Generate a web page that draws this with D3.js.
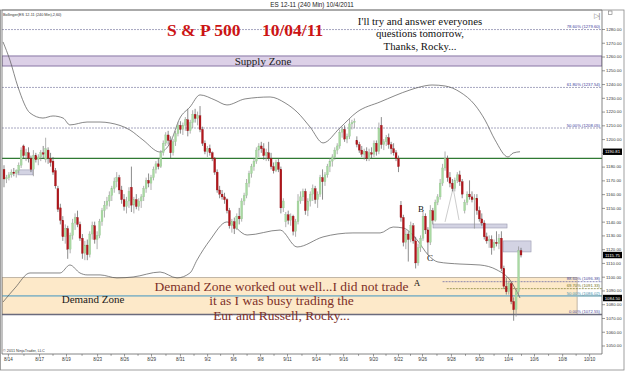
<!doctype html>
<html lang="en">
<head>
<meta charset="UTF-8">
<title>ES 12-11 (240 Min) 10/4/2011</title>
<style>
  html, body { margin: 0; padding: 0; background: #fff; }
  svg { display: block; font-family: 'Liberation Sans', Arial, sans-serif; }
  .note { font-family: 'Liberation Serif', 'Times New Roman', serif; }
</style>
</head>
<body>
<svg width="625" height="371"></svg>
<script src="https://d3js.org/d3.v7.min.js"></script>
<script>
  // 240 min bars, ES 12-11, 8/12 .. 10/4/2011
  const open = [
    1178,1171,1172,1174,1176,1175,1177,1181,1195,1188, 1190,1186,1178,1188,1185,1187,1190,1185,1192,1186,
    1184,1177,1164,1150,1141,1129,1135,1120,1130,1139, 1143,1138,1128,1117,1123,1116,1131,1137,1127,1130,
    1140,1148,1152,1155,1159,1164,1169,1172,1163,1156, 1151,1155,1165,1152,1156,1151,1155,1158,1164,1170,
    1168,1172,1178,1182,1180,1190,1197,1203,1199,1190, 1198,1204,1210,1207,1210,1214,1206,1212,1218,1215,
    1217,1207,1197,1191,1193,1190,1186,1176,1163,1160, 1158,1156,1148,1137,1140,1135,1144,1142,1155,1159,
    1168,1175,1180,1184,1192,1195,1193,1188,1190,1186, 1180,1177,1183,1178,1150,1140,1145,1141,1144,1133,
    1140,1155,1158,1162,1148,1155,1160,1164,1156,1160, 1172,1169,1174,1180,1184,1187,1192,1195,1205,1207,
    1200,1202,1211,1212,1199,1196,1192,1189,1191,1186, 1190,1189,1197,1191,1210,1196,1198,1201,1196,1193,
    1190,1186,1152,1143,1125,1131,1127,1137,1126,1110, 1121,1128,1144,1134,1125,1148,1141,1154,1158,1168,
    1179,1186,1172,1168,1164,1170,1174,1169,1148,1154, 1160,1158,1156,1157,1148,1142,1139,1129,1126,1127,
    1121,1125,1124,1128,1106,1093,1089,1095,1082,1076, 1089,1119
  ]
  const high = [
    1181,1174,1176,1178,1179,1178,1183,1194,1196,1193, 1194,1188,1192,1190,1189,1192,1195,1201,1194,1190,
    1187,1179,1166,1153,1144,1138,1137,1132,1142,1146, 1148,1140,1131,1126,1127,1133,1140,1140,1133,1142,
    1150,1155,1158,1162,1166,1172,1176,1174,1166,1160, 1158,1165,1180,1158,1160,1157,1160,1166,1172,1175,
    1174,1180,1184,1186,1192,1199,1205,1206,1202,1200, 1206,1212,1213,1212,1216,1222,1214,1221,1222,1220,
    1224,1209,1199,1195,1196,1191,1187,1178,1166,1163, 1161,1157,1150,1142,1143,1146,1150,1157,1161,1171,
    1177,1182,1186,1194,1197,1198,1197,1193,1198,1190, 1183,1185,1186,1180,1157,1147,1148,1146,1145,1142,
    1160,1162,1164,1164,1157,1162,1167,1166,1162,1174, 1178,1176,1182,1186,1189,1194,1197,1207,1209,1210,
    1204,1215,1214,1215,1202,1198,1195,1193,1194,1193, 1194,1199,1199,1212,1216,1200,1203,1204,1198,1197,
    1192,1188,1155,1145,1134,1133,1140,1139,1129,1124, 1130,1147,1146,1136,1152,1150,1156,1160,1171,1182,
    1191,1188,1176,1171,1172,1176,1177,1171,1156,1162, 1170,1162,1160,1160,1151,1146,1141,1132,1130,1130,
    1127,1133,1131,1133,1108,1099,1097,1096,1085,1091, 1122,1121
  ]
  const low = [
    1165,1168,1170,1172,1173,1172,1175,1179,1186,1184, 1183,1176,1173,1183,1181,1184,1186,1183,1182,1180,
    1174,1164,1147,1138,1126,1124,1113,1117,1127,1134, 1136,1126,1113,1112,1112,1114,1127,1124,1120,1128,
    1137,1143,1149,1151,1155,1161,1165,1160,1153,1148, 1146,1150,1147,1146,1149,1148,1150,1155,1161,1165,
    1163,1170,1175,1178,1179,1188,1195,1196,1186,1188, 1195,1202,1204,1203,1206,1202,1204,1208,1212,1210,
    1205,1195,1189,1187,1188,1184,1174,1161,1157,1156, 1153,1146,1135,1132,1131,1134,1138,1140,1152,1157,
    1165,1172,1177,1182,1187,1190,1185,1184,1184,1178, 1175,1176,1176,1146,1147,1136,1138,1137,1130,1129,
    1138,1153,1155,1145,1144,1151,1155,1153,1150,1158, 1156,1166,1172,1176,1180,1185,1189,1193,1201,1198,
    1197,1200,1207,1208,1194,1190,1187,1185,1184,1184, 1186,1187,1188,1189,1193,1192,1195,1193,1189,1188,
    1184,1176,1140,1122,1120,1111,1125,1124,1106,1108, 1118,1126,1131,1116,1123,1138,1140,1152,1156,1166,
    1177,1169,1165,1162,1162,1168,1166,1157,1146,1152, 1156,1154,1135,1145,1140,1137,1127,1124,1121,1116,
    1119,1122,1120,1104,1091,1087,1087,1080,1068,1071, 1086,1114
  ]
  const close = [
    1171,1172,1174,1176,1175,1177,1181,1192,1188,1190, 1186,1178,1188,1185,1187,1190,1189,1193,1186,1183,
    1176,1166,1149,1141,1129,1135,1120,1130,1139,1143, 1138,1128,1117,1123,1116,1131,1137,1127,1130,1140,
    1148,1152,1155,1159,1164,1169,1172,1163,1156,1151, 1155,1162,1152,1156,1151,1155,1158,1164,1170,1168,
    1172,1178,1182,1180,1190,1197,1203,1199,1190,1198, 1204,1210,1207,1210,1214,1206,1212,1218,1215,1217,
    1207,1197,1191,1193,1190,1186,1176,1163,1160,1158, 1156,1148,1137,1140,1135,1144,1142,1155,1159,1168,
    1175,1180,1184,1192,1195,1193,1188,1190,1186,1180, 1177,1183,1178,1150,1155,1145,1141,1144,1133,1140,
    1155,1158,1162,1148,1155,1160,1164,1156,1160,1172, 1169,1174,1180,1184,1187,1192,1195,1205,1207,1200,
    1202,1211,1212,1213,1196,1192,1189,1191,1186,1190, 1189,1197,1191,1208,1196,1198,1201,1196,1193,1190,
    1186,1180,1143,1125,1131,1127,1137,1126,1110,1121, 1128,1144,1134,1125,1148,1141,1154,1158,1168,1179,
    1186,1172,1168,1164,1170,1174,1169,1160,1154,1160, 1158,1156,1157,1148,1142,1139,1129,1126,1127,1121,
    1125,1124,1128,1106,1093,1089,1095,1082,1076,1089, 1119,1115.75
  ]

  // Bollinger(2,60) bands (bar index, price)
  const upperIdx = [-0.4,2.4,5.7,10.6,15.9,20,24.1,26.9,33.9,39.2,43.3,51.4,56.7,63.7,67.8,71.8,75.9,80,86.1,91,98.4,108.6,114.7,119.6,124.9,130.2,137.1,144.1,153.5,165.7,169.8,174.7,180,186.1,192.2,196.3,200.4,205.7,207.8,210.6]
  const upperVal = [1270.6,1257.5,1237.9,1219,1215.3,1216.8,1215.3,1210.3,1212.4,1212.4,1211.7,1206.6,1199.4,1190.6,1197.2,1215.3,1223.3,1232.1,1228.4,1224.8,1229.2,1230.6,1226.3,1219.7,1208.8,1197.2,1208.1,1219.7,1227,1235.7,1237.9,1239.3,1238.6,1234.2,1224.8,1213.9,1199.4,1187,1189.9,1190.8]
  const lowerIdx = [-0.4,4.5,10.6,22.9,26.9,31,33.9,39.2,46.1,52.7,63.7,70.6,75.9,78.8,84.1,91,99.2,112.7,119.6,130.2,142.4,153.5,158.8,162.9,168.6,173.1,177.1,186.1,194.3,201.2,206.5,210.6]
  const lowerVal = [1081.6,1091.8,1102.7,1102.7,1108.5,1102.7,1101.3,1101.3,1099.1,1099.8,1103.4,1099.1,1102.7,1112.2,1126.7,1139.8,1130.3,1133.9,1121.6,1128.9,1131.8,1131.8,1136.1,1135.4,1126.7,1115.8,1110.7,1109.2,1108.5,1104.9,1097.6,1084.5]

  const dateLabels = ['8/14','8/17','8/19','8/23','8/26','8/29','8/31','9/2','9/6','9/8','9/11','9/14','9/16','9/20','9/22','9/26','9/28','9/30','10/4','10/6','10/8','10/10']
  const dateIdx = [1.6,14.3,25.3,38,49,60,71.8,82.9,93.5,104.5,115.5,127.3,138.4,150.6,160.8,170.6,182.4,193.9,205.7,216.3,227.8,238.8]

  const priceTicks = d3.range(1050, 1281, 10)

  // fib retracements
  const fibUpVal = [1279.6, 1237.54, 1208.05]
  const fibUpText = ['78.60% (1279.60)', '61.80% (1237.54)', '50.00% (1208.05)']
  const fibLowVal = [1096.38, 1091.33, 1086.02, 1072.55]
  const fibLowText = ['88.60% (1096.38)', '69.70% (1091.33)', '50.00% (1086.02)', '0.00% (1072.55)']
  const fibLowStart = [179, 180.7, -2, -2]

  const supplyZone = [1253.1, 1260.4]
  const demandZone = [1072.55, 1099.3]
  const demandEnd = 233.9
  const greenLine = 1186

  const boxStart = [5.7, 175.1, 203.7]
  const boxEnd = [11.8, 205.3, 215.1]
  const boxHigh = [1177.6, 1138.3, 1126]
  const boxLow = [1174, 1135.4, 1118]

  const triIdx = [180, 183.3, 185.7]
  const triVal = [1139.8, 1164.5, 1141.2]

  const markers = [1190.81, 1115.75, 1084.50]

  ;(function () {
    const svg = d3.select('svg')
    const pL = 2, pR = 602, pT = 10, pB = 354

    const x = d3.scaleLinear().domain([0, 211]).range([4, 521])
    const y = d3.scaleLinear().domain([1050, 1280]).range([345.5, 29])

    svg.append('rect').attr('width', 625).attr('height', 371).attr('fill', '#fff')

    svg.append('defs').append('clipPath').attr('id', 'plot')
      .append('rect').attr('x', pL).attr('y', pT).attr('width', pR - pL).attr('height', pB - pT)

    const plot = svg.append('g').attr('clip-path', 'url(#plot)')

    // zones
    plot.append('rect')
      .attr('x', pL).attr('width', pR - pL)
      .attr('y', y(supplyZone[1])).attr('height', y(supplyZone[0]) - y(supplyZone[1]))
      .attr('fill', '#dcd0e7').attr('stroke', '#7d6a9c').attr('stroke-width', 0.9)

    plot.append('rect')
      .attr('x', pL).attr('width', x(demandEnd) - pL)
      .attr('y', y(demandZone[1])).attr('height', y(demandZone[0]) - y(demandZone[1]))
      .attr('fill', '#fde9c9').attr('stroke', '#a89a88').attr('stroke-width', 0.7)

    // upper fib lines
    fibUpVal.forEach((v, i) => {
      plot.append('line')
        .attr('x1', pL).attr('x2', pR).attr('y1', y(v)).attr('y2', y(v))
        .attr('stroke', '#8f8fb0').attr('stroke-width', 0.8).attr('stroke-dasharray', '2,1')
      plot.append('text')
        .attr('x', pR - 2).attr('y', y(v) - 1.2).attr('text-anchor', 'end')
        .attr('font-size', 4.2).attr('fill', '#3a3a9a').text(fibUpText[i])
    })

    // lower fib lines
    const fibColor = ['#5a5aa0', '#7a7a2a', '#8fb8c4', '#6a6a7c']
    const fibText = ['#4a4a9a', '#6f6f22', '#3f8fae', '#4a4a9a']
    fibLowVal.forEach((v, i) => {
      const ln = plot.append('line')
        .attr('x1', Math.max(pL, x(fibLowStart[i]))).attr('x2', pR)
        .attr('y1', y(v)).attr('y2', y(v))
        .attr('stroke', fibColor[i])
      if (i < 2) ln.attr('stroke-width', 0.7).attr('stroke-dasharray', '2,1')
      else ln.attr('stroke-width', i === 2 ? 1.8 : 1.6)
      plot.append('text')
        .attr('x', pR - 2).attr('y', y(v) - 1.4).attr('text-anchor', 'end')
        .attr('font-size', 4.2).attr('fill', fibText[i]).text(fibLowText[i])
    })

    plot.append('line')
      .attr('x1', pL).attr('x2', pR).attr('y1', y(greenLine)).attr('y2', y(greenLine))
      .attr('stroke', '#2f7a33').attr('stroke-width', 1.3)

    // bollinger bands
    const bandLine = d3.line().x(d => x(d[0])).y(d => y(d[1])).curve(d3.curveMonotoneX)
    plot.append('path')
      .attr('d', bandLine(upperIdx.map((d, i) => [d, upperVal[i]])))
      .attr('fill', 'none').attr('stroke', '#555').attr('stroke-width', 0.7)
    plot.append('path')
      .attr('d', bandLine(lowerIdx.map((d, i) => [d, lowerVal[i]])))
      .attr('fill', 'none').attr('stroke', '#555').attr('stroke-width', 0.7)

    // drawn boxes
    boxStart.forEach((d, i) => {
      plot.append('rect')
        .attr('x', x(d)).attr('width', x(boxEnd[i]) - x(d))
        .attr('y', y(boxHigh[i])).attr('height', y(boxLow[i]) - y(boxHigh[i]))
        .attr('fill', '#d3d3e3').attr('stroke', '#9a9ab0').attr('stroke-width', 0.6)
    })

    plot.append('path')
      .attr('d', d3.line()(triIdx.map((d, i) => [x(d), y(triVal[i])])))
      .attr('fill', 'none').attr('stroke', '#aaa').attr('stroke-width', 0.6)

    // candles
    const bars = plot.append('g').selectAll('g')
      .data(close.map((c, i) => ({ i, o: open[i], h: high[i], l: low[i], c })))
      .enter().append('g')

    bars.append('line')
      .attr('x1', d => x(d.i)).attr('x2', d => x(d.i))
      .attr('y1', d => y(d.h)).attr('y2', d => y(d.l))
      .attr('stroke', d => d.c >= d.o ? '#8c8c8c' : '#5a5a5a').attr('stroke-width', 0.7)

    bars.append('rect')
      .attr('x', d => x(d.i) - 0.95).attr('width', 1.9)
      .attr('y', d => y(Math.max(d.o, d.c)))
      .attr('height', d => Math.max(0.6, Math.abs(y(d.o) - y(d.c))))
      .attr('fill', d => d.c >= d.o ? '#a9d9a2' : '#b3161b')
      .attr('stroke', d => d.c >= d.o ? '#93c48e' : '#8e1014').attr('stroke-width', 0.3)

    // annotations
    plot.append('text').attr('class', 'note').attr('x', 167).attr('y', 35.5)
      .attr('font-size', 17.5).attr('font-weight', 'bold').attr('fill', '#cc1414').text('S & P 500')
    plot.append('text').attr('class', 'note').attr('x', 262).attr('y', 35.5)
      .attr('font-size', 17.5).attr('font-weight', 'bold').attr('fill', '#cc1414').text('10/04/11')

    const topNote = ["I'll try and answer everyones", 'questions tomorrow,', 'Thanks, Rocky...']
    topNote.forEach((t, i) => {
      plot.append('text').attr('class', 'note').attr('x', 420).attr('y', 25 + i * 12.3)
        .attr('text-anchor', 'middle').attr('font-size', 10.8).attr('fill', '#111').text(t)
    })

    plot.append('text').attr('class', 'note').attr('x', 263).attr('y', 64.5)
      .attr('text-anchor', 'middle').attr('font-size', 11).attr('fill', '#1a1a1a').text('Supply Zone')
    plot.append('text').attr('class', 'note').attr('x', 93).attr('y', 303)
      .attr('text-anchor', 'middle').attr('font-size', 11).attr('fill', '#1a1a1a').text('Demand Zone')

    const demandNote = ['Demand Zone worked out well...I did not trade', 'it as I was busy trading the', 'Eur and Russell, Rocky...']
    demandNote.forEach((t, i) => {
      plot.append('text').attr('class', 'note').attr('x', 281.5).attr('y', 290.5 + i * 14.8)
        .attr('text-anchor', 'middle').attr('font-size', 13.5).attr('fill', '#7e3028').text(t)
    })

    const abc = [['A', 417, 286], ['B', 421, 211.5], ['C', 430, 260.5]]
    abc.forEach(d => {
      plot.append('text').attr('class', 'note').attr('x', d[1]).attr('y', d[2])
        .attr('text-anchor', 'middle').attr('font-size', 9).attr('fill', '#111').text(d[0])
    })

    plot.append('text').attr('x', 3).attr('y', 15.5).attr('font-size', 3.8).attr('fill', '#333')
      .text('Bollinger(ES 12-11 (240 Min),2,60)')
    plot.append('text').attr('x', 3).attr('y', 352).attr('font-size', 3.8).attr('fill', '#333')
      .text('© 2011 NinjaTrader, LLC')

    // axes
    const yAxis = svg.append('g').attr('transform', `translate(${pR},0)`)
      .call(d3.axisRight(y).tickValues(priceTicks).tickSize(3).tickPadding(1).tickFormat(d3.format('.2f')))
    yAxis.select('.domain').remove()
    yAxis.selectAll('line').attr('stroke', '#555').attr('stroke-width', 0.6)
    yAxis.selectAll('text').attr('font-size', 4.3).attr('fill', '#333').attr('font-family', 'Liberation Sans, Arial, sans-serif')

    markers.forEach(m => {
      svg.append('rect').attr('x', 603).attr('y', y(m) - 3.2).attr('width', 19).attr('height', 6.4).attr('fill', '#000')
      svg.append('text').attr('x', 612.5).attr('y', y(m) + 1.6).attr('text-anchor', 'middle')
        .attr('font-size', 4.3).attr('fill', '#fff').text(d3.format('.2f')(m))
    })

    const minorIdx = dateIdx.slice(1).map((d, i) => (d + dateIdx[i]) / 2)
    const xAxis = svg.append('g').attr('transform', `translate(0,${pB})`)
      .call(d3.axisBottom(x).tickValues(dateIdx).tickSize(2.5).tickPadding(1).tickFormat((d, i) => dateLabels[i]))
    xAxis.select('.domain').remove()
    xAxis.selectAll('line').attr('stroke', '#555').attr('stroke-width', 0.6)
    xAxis.selectAll('text').attr('font-size', 4.5).attr('fill', '#333').attr('font-family', 'Liberation Sans, Arial, sans-serif')

    const xMinor = svg.append('g').attr('transform', `translate(0,${pB})`)
      .call(d3.axisBottom(x).tickValues(minorIdx).tickSize(1.8).tickFormat(''))
    xMinor.select('.domain').remove()
    xMinor.selectAll('line').attr('stroke', '#555').attr('stroke-width', 0.6)

    // frame
    svg.append('path')
      .attr('d', `M${pL},${pT}H${pR}V${pB}H${pL}Z`)
      .attr('fill', 'none').attr('stroke', '#666').attr('stroke-width', 0.8)
    svg.append('rect').attr('x', 0.5).attr('y', pT).attr('width', 623.5).attr('height', 370 - pT)
      .attr('fill', 'none').attr('stroke', '#888').attr('stroke-width', 0.8)

    // title + toolbar glyphs
    svg.append('text').attr('x', 312).attr('y', 6.5).attr('text-anchor', 'middle')
      .attr('font-size', 6.3).attr('fill', '#222').text('ES 12-11 (240 Min)  10/4/2011')
    svg.append('text').attr('x', 597).attr('y', 18).attr('text-anchor', 'middle')
      .attr('font-size', 7).attr('fill', '#777').text('▷|')
    svg.append('rect').attr('x', 608.5).attr('y', 11).attr('width', 3.5).attr('height', 3.5)
      .attr('fill', 'none').attr('stroke', '#777').attr('stroke-width', 0.6)
  })()
</script>
</body>
</html>
